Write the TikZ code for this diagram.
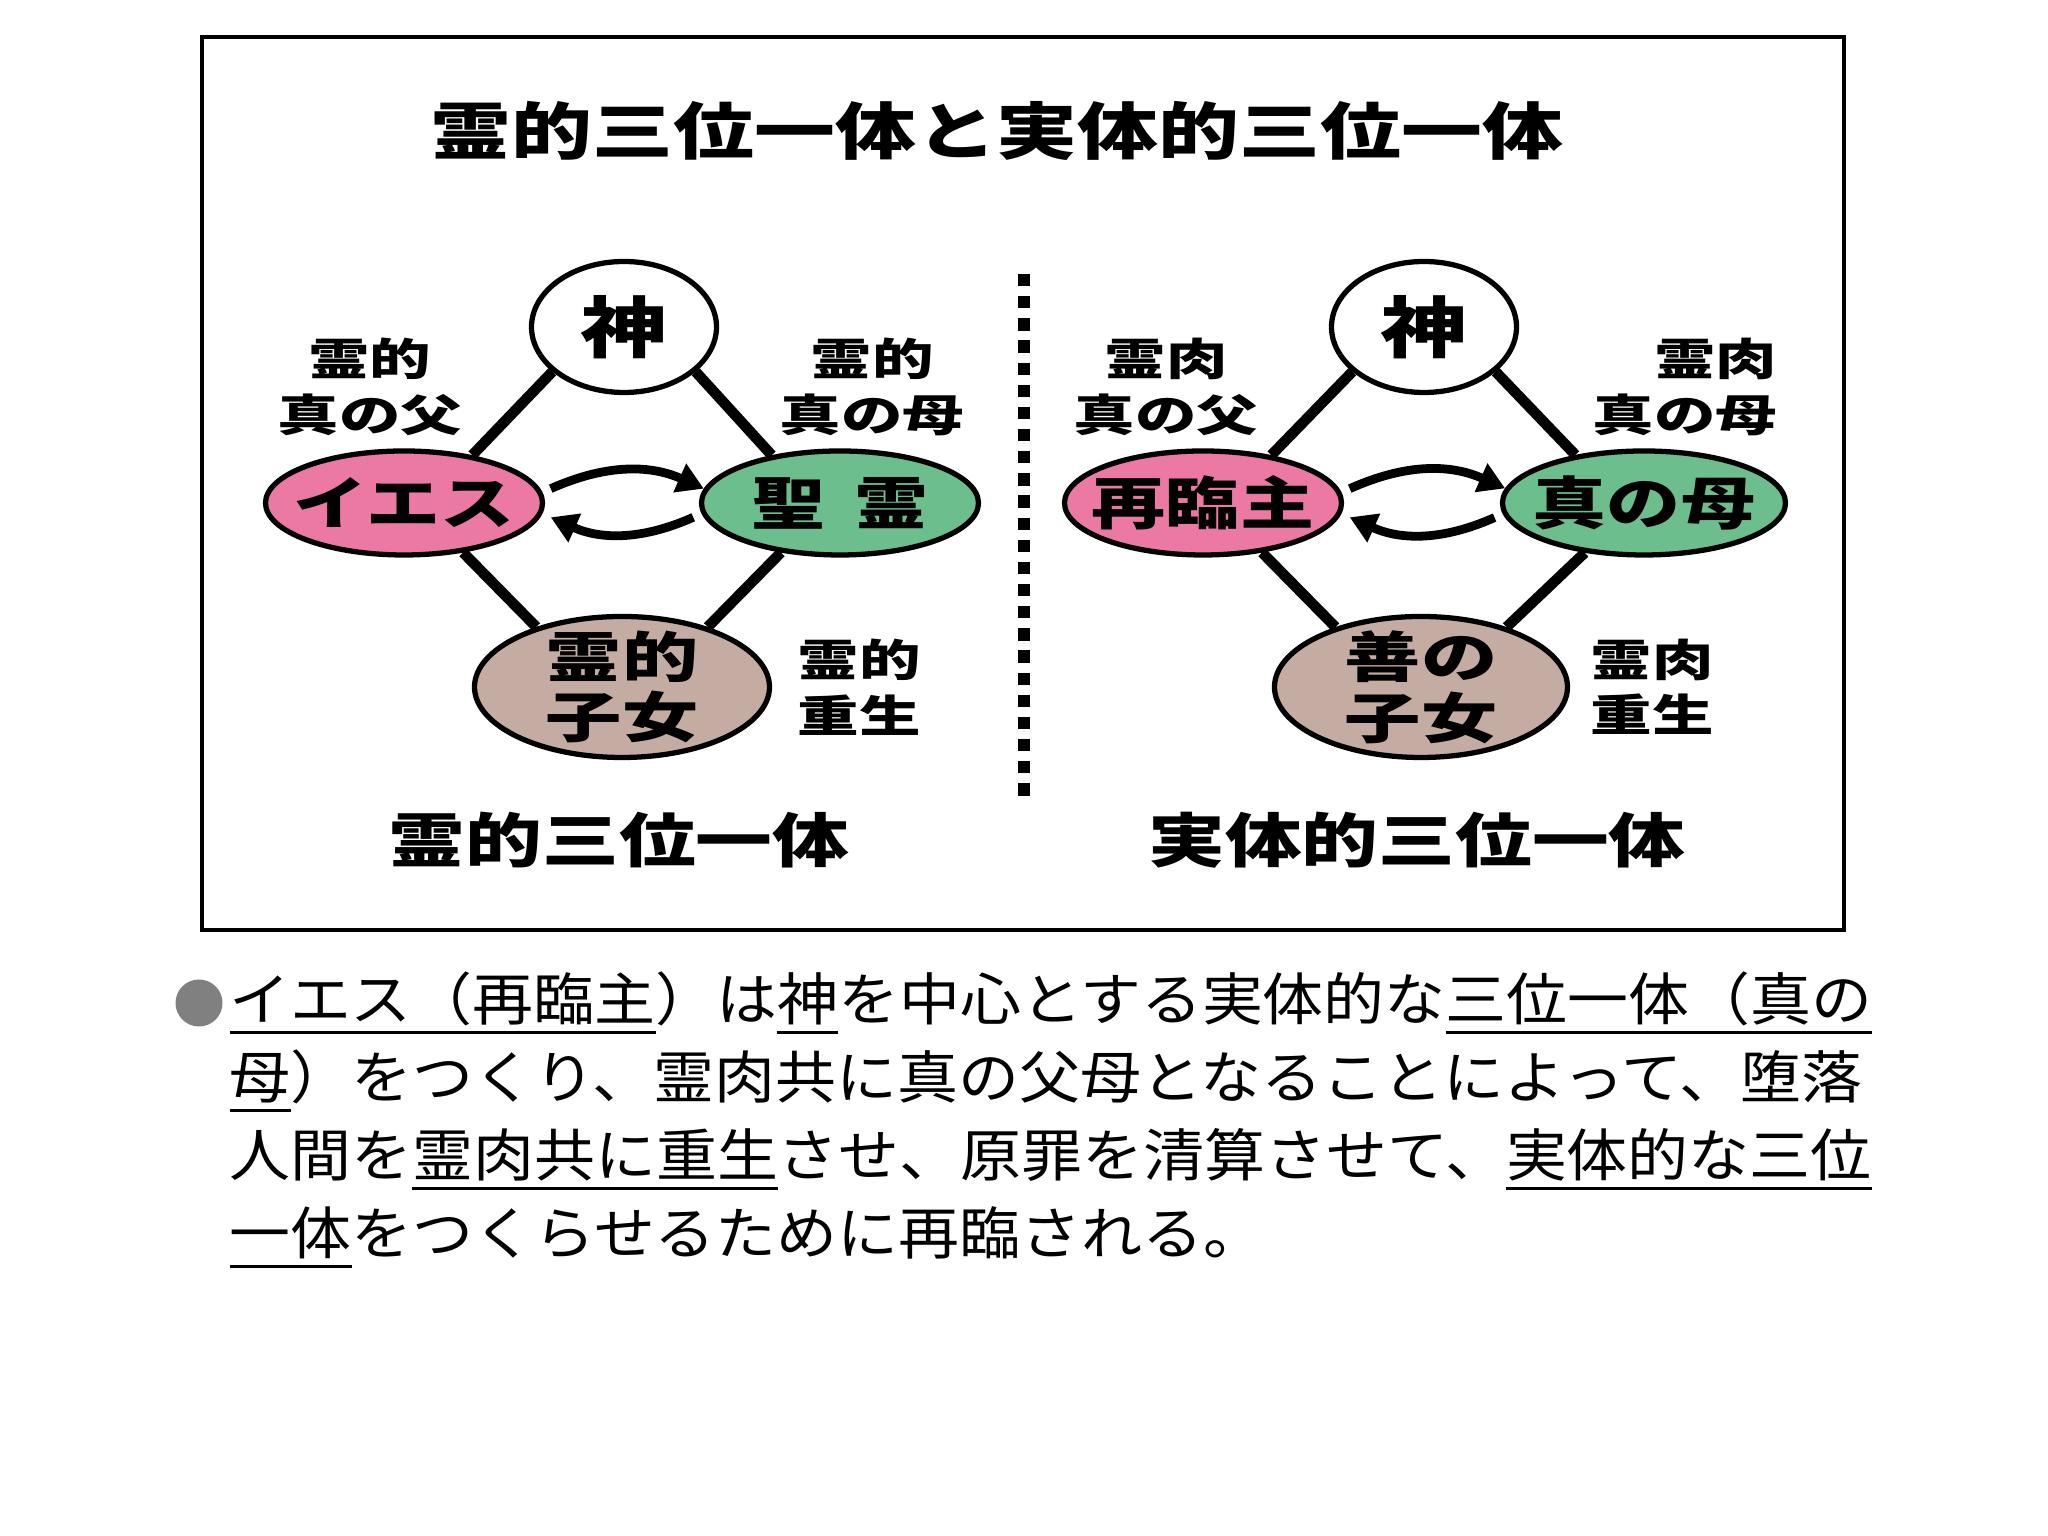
\documentclass[tikz,border=0pt]{standalone}
\usepackage{fontspec}
\usetikzlibrary{arrows.meta,shapes.geometric}
\usepackage{xcolor}
\newfontfamily\figfont[FakeStretch=1.3]{Noto Sans CJK JP}
\newfontfamily\labfont[FakeStretch=1.4]{Noto Sans CJK JP}
\newfontfamily\bodyfont[FakeStretch=1.07]{Noto Sans CJK JP}
\definecolor{figpink}{RGB}{235,121,163}
\definecolor{figgreen}{RGB}{108,190,141}
\definecolor{figtan}{RGB}{196,172,163}
\definecolor{figgray}{RGB}{128,128,128}
\newsavebox\ulbox
\newcommand\jul[1]{\sbox\ulbox{#1}\rlap{\rule[-0.24em]{\wd\ulbox}{0.9pt}}\usebox\ulbox}

\begin{document}
\begin{tikzpicture}[x=1cm,y=1cm,>=Triangle,font=\figfont]

% canvas
\useasboundingbox (0,0) rectangle (20.48,15.36);
\fill[white] (0,0) rectangle (20.48,15.36);

\tikzset{
  oval/.style={
    ellipse,
    draw=black,
    line width=1.5pt,
    inner sep=-3mm,
    font=\figfont\bfseries\fontsize{16.2pt}{18pt}\selectfont
  },
  tag/.style={
    align=center,
    inner sep=0pt,
    font=\labfont\bfseries\fontsize{12.5pt}{15.8pt}\selectfont
  },
  bond/.style={
    line width=3pt
  },
  swapflow/.style={
    line width=2.5pt,
    -{Triangle[length=7.5pt,width=8.5pt]}
  },
  sepline/.style={
    line width=3.4pt,
    dash pattern=on 3.5pt off 2.8pt
  },
  caption/.style={
    inner sep=0pt,
    font=\figfont\bfseries\fontsize{16.8pt}{19pt}\selectfont
  },
  bodytext/.style={
    anchor=west,
    align=left,
    inner sep=0pt,
    font=\bodyfont\fontsize{16.2pt}{22.2pt}\selectfont
  }
}

% frame
\draw[line width=1.3pt] (2.02,6.06) rectangle (18.44,14.99);

% header
\node[inner sep=0pt,font=\figfont\bfseries\fontsize{17.7pt}{20pt}\selectfont]
  (title) at (9.97,14.05) {霊的三位一体と実体的三位一体};

% left trinity
\node[oval,fill=white,minimum width=1.85cm,minimum height=1.31cm,
  font=\figfont\bfseries\fontsize{19pt}{21pt}\selectfont] (god1) at (6.24,12.09) {神};
\node[oval,fill=figpink,minimum width=2.77cm,minimum height=1.04cm] (jesus) at (4.04,10.33) {イエス};
\node[oval,fill=figgreen,minimum width=2.77cm,minimum height=1.04cm] (spirit) at (8.40,10.33) {聖\hspace{0.5em}霊};
\node[oval,fill=figtan,minimum width=2.95cm,minimum height=1.41cm,align=center,
  font=\labfont\bfseries\fontsize{15.5pt}{17.3pt}\selectfont] (kids1) at (6.22,8.49) {霊的\\子女};

\node[tag] (father1) at (3.70,11.49) {霊的\\真の父};
\node[tag] (mother1) at (8.72,11.49) {霊的\\真の母};
\node[tag] (reborn1) at (8.59,8.49) {霊的\\重生};

\draw[bond] (god1.212) -- (jesus.35);
\draw[bond] (god1.-32) -- (spirit.145);
\draw[bond] (jesus.-40) -- (kids1.145);
\draw[bond] (spirit.-140) -- (kids1.35);

\draw[swapflow] ([xshift=3pt]jesus.6) to[bend left=24] (spirit.174);
\draw[swapflow] ([xshift=-3pt]spirit.186) to[bend left=24] ([xshift=3pt]jesus.-6);

% separator
\coordinate (septop) at (10.24,12.62);
\coordinate (sepbot) at (10.24,7.39);
\draw[sepline] (septop) -- (sepbot);

% right trinity
\node[oval,fill=white,minimum width=1.85cm,minimum height=1.31cm,
  font=\figfont\bfseries\fontsize{19pt}{21pt}\selectfont] (god2) at (14.24,12.09) {神};
\node[oval,fill=figpink,minimum width=2.77cm,minimum height=1.04cm] (lord) at (12.03,10.33) {再臨主};
\node[oval,fill=figgreen,minimum width=2.83cm,minimum height=1.04cm] (truemother) at (16.44,10.33) {真の母};
\node[oval,fill=figtan,minimum width=2.93cm,minimum height=1.41cm,align=center,
  font=\labfont\bfseries\fontsize{15.5pt}{17.3pt}\selectfont] (kids2) at (14.21,8.49) {善の\\子女};

\node[tag] (father2) at (11.66,11.49) {霊肉\\真の父};
\node[tag,align=right] (mother2) at (16.85,11.49) {霊肉\\真の母};
\node[tag] (reborn2) at (16.52,8.49) {霊肉\\重生};

\draw[bond] (god2.212) -- (lord.35);
\draw[bond] (god2.-32) -- (truemother.145);
\draw[bond] (lord.-40) -- (kids2.145);
\draw[bond] (truemother.-140) -- (kids2.35);

\draw[swapflow] ([xshift=3pt]lord.6) to[bend left=24] (truemother.174);
\draw[swapflow] ([xshift=-3pt]truemother.186) to[bend left=24] ([xshift=3pt]lord.-6);

% captions
\node[caption] (cap1) at (6.19,6.96) {霊的三位一体};
\node[caption] (cap2) at (14.17,6.96) {実体的三位一体};

% note below the frame
\node[circle,fill=figgray,minimum size=0.47cm,inner sep=0pt] (dot) at (1.99,5.33) {};
\node[bodytext] (body) at (2.29,4.16)
  {\jul{イエス（再臨主}）は\jul{神}を中心とする実体的な\jul{三位一体（真の}\\
   \jul{母}）をつくり、霊肉共に真の父母となることによって、堕落\\
   人間を\jul{霊肉共に重生}させ、原罪を清算させて、\jul{実体的な三位}\\
   \jul{一体}をつくらせるために再臨される。};

\end{tikzpicture}
\end{document}
